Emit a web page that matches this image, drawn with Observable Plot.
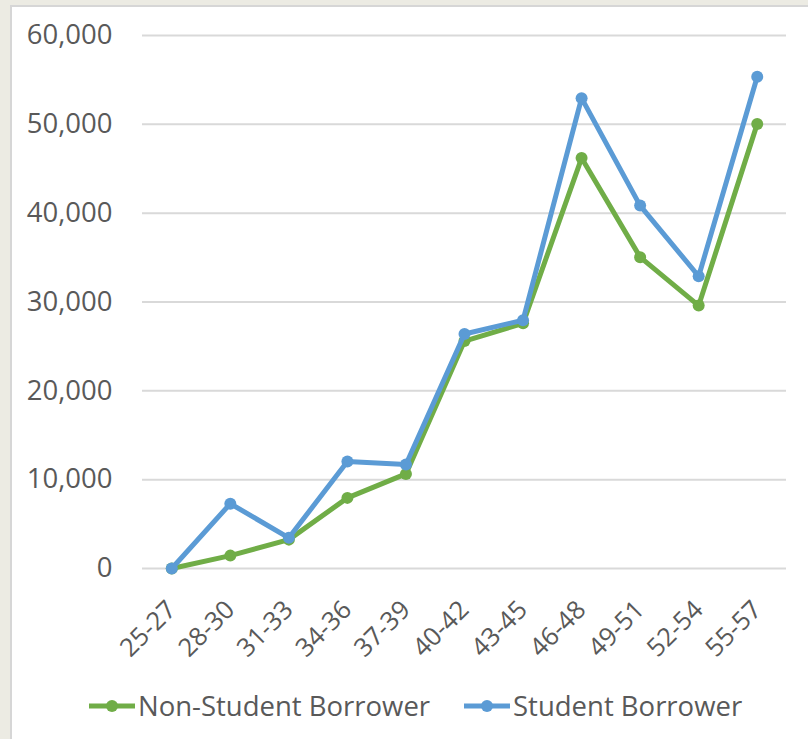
<!DOCTYPE html>
<html>
<head>
<meta charset="utf-8">
<script src="https://cdn.jsdelivr.net/npm/d3@7"></script>
<script src="https://cdn.jsdelivr.net/npm/@observablehq/plot@0.6"></script>
<style>
  html, body { margin: 0; padding: 0; background: #ECEBE3; width: 808px; height: 739px; overflow: hidden; }
  #frame { position: absolute; left: 10px; top: 5px; width: 798px; height: 734px; box-sizing: border-box;
           background: #fff; border-left: 2px solid #d6d6d6; border-top: 2px solid #d6d6d6; }
  #chart { position: absolute; left: 0; top: 0; }
  .leg { position: absolute; top: 681px; height: 36px; line-height: 36px; display: flex; align-items: center;
         font-family: "Open Sans", sans-serif; font-size: 27.5px; color: #595959; white-space: nowrap; }
  .leg svg { margin-right: 2px; }
</style>
</head>
<body>
<div id="frame">
  <div id="chart"></div>
  <div id="legend"></div>
</div>
<script>
const categories = ["25-27","28-30","31-33","34-36","37-39","40-42","43-45","46-48","49-51","52-54","55-57"];
const nonStudent = [0, 1450, 3250, 7950, 10650, 25600, 27600, 46200, 35050, 29600, 50050];
const student    = [0, 7300, 3450, 12050, 11700, 26400, 27950, 52950, 40850, 32900, 55350];
const yTicks = [0, 10000, 20000, 30000, 40000, 50000, 60000];
const seriesNames = ["Non-Student Borrower", "Student Borrower"];
const seriesColors = ["#70AD47", "#5B9BD5"];

const green = categories.map((c, i) => ({cat: c, value: nonStudent[i]}));
const blue = categories.map((c, i) => ({cat: c, value: student[i]}));

const chart = Plot.plot({
  width: 796,
  height: 660,
  marginLeft: 130,
  marginRight: 22,
  marginTop: 28,
  marginBottom: 99,
  style: { fontFamily: "Open Sans, sans-serif", color: "#595959", background: "white", overflow: "visible" },
  x: { type: "point", domain: categories, padding: 0.5, round: false },
  y: { domain: [0, 60000] },
  marks: [
    Plot.ruleY(yTicks, { stroke: "#d9d9d9", strokeWidth: 2 }),
    Plot.axisY(yTicks, { tickSize: 0, tickPadding: 30, tickFormat: d3.format(","), label: null, fontSize: 27.5, fill: "#595959" }),
    Plot.axisX({ tickSize: 0, tickPadding: 37, tickRotate: -45, label: null, fontSize: 25.5, fill: "#595959" }),
    Plot.line(green, { x: "cat", y: "value", stroke: seriesColors[0], strokeWidth: 5 }),
    Plot.dot(green, { x: "cat", y: "value", fill: seriesColors[0], r: 6 }),
    Plot.line(blue, { x: "cat", y: "value", stroke: seriesColors[1], strokeWidth: 5 }),
    Plot.dot(blue, { x: "cat", y: "value", fill: seriesColors[1], r: 6 })
  ]
});
document.getElementById("chart").appendChild(chart);

const legendLefts = [76, 451];
const legend = document.getElementById("legend");
seriesNames.forEach((name, i) => {
  const d = document.createElement("div");
  d.className = "leg";
  d.style.left = legendLefts[i] + "px";
  d.innerHTML = `<svg width="48" height="14"><line x1="1" y1="7" x2="47" y2="7" stroke="${seriesColors[i]}" stroke-width="5"/><circle cx="24" cy="7" r="6" fill="${seriesColors[i]}"/></svg><span>${name}</span>`;
  legend.appendChild(d);
});
</script>
</body>
</html>
